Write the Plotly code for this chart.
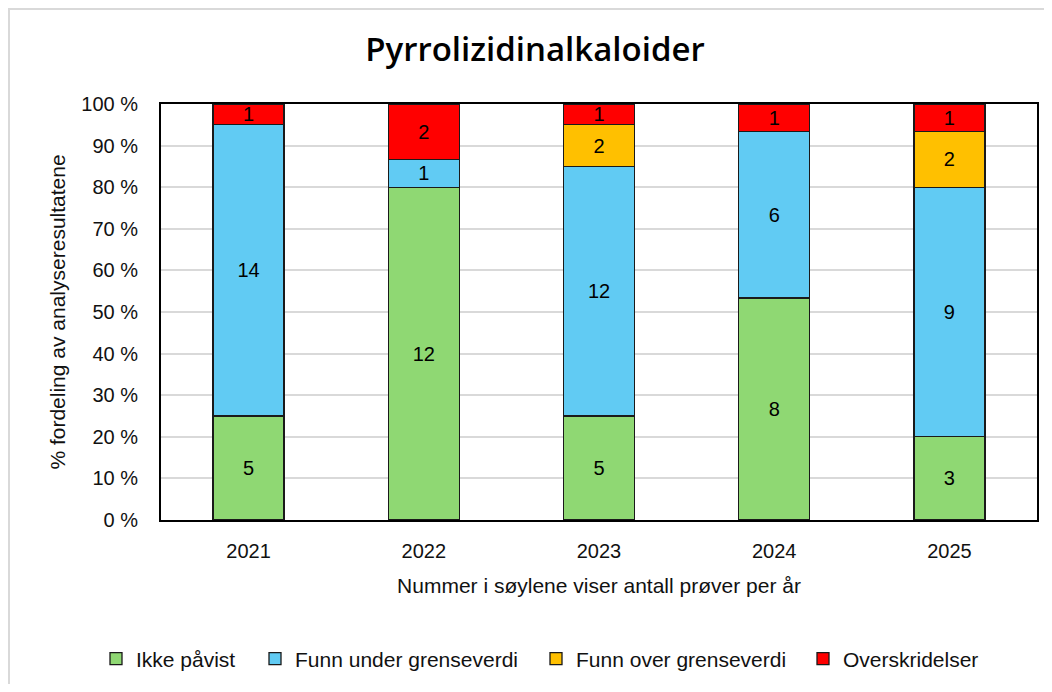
import plotly.graph_objects as go

years = ["2021", "2022", "2023", "2024", "2025"]
ikke_pavist = [5, 12, 5, 8, 3]
funn_under = [14, 1, 12, 6, 9]
funn_over = [0, 0, 2, 0, 2]
overskridelser = [1, 2, 1, 1, 1]

series = [
    ("Ikke påvist", ikke_pavist, "#8FD873"),
    ("Funn under grenseverdi", funn_under, "#61CBF3"),
    ("Funn over grenseverdi", funn_over, "#FFC000"),
    ("Overskridelser", overskridelser, "#FF0000"),
]
# screen x of each legend square (page has an 8px body margin)
legend_square_x = [110, 269, 550, 817]

FONT = "Liberation Sans"
OFF = 8
W, H = 1052 - 2 * OFF, 692 - 2 * OFF
L, T, R, B = 161 - OFF, 104 - OFF, 1037 - OFF, 520 - OFF

fig = go.Figure()
for i, (name, vals, col) in enumerate(series):
    lg = "legend" if i == 0 else f"legend{i + 1}"
    fig.add_trace(go.Bar(
        x=years, y=vals, name=name, legend=lg,
        marker=dict(color=col, line=dict(color="#1a1a1a", width=1.3)),
        text=[str(v) if v else "" for v in vals],
        textposition="inside", insidetextanchor="middle",
        constraintext="none", textangle=0,
        textfont=dict(size=20, color="black", family=FONT),
        hoverinfo="skip",
    ))

legend_common = dict(orientation="h", xanchor="left", xref="container",
                     yref="container", yanchor="middle", y=1 - (659 - OFF) / H,
                     font=dict(size=21, family=FONT, color="#111"),
                     bgcolor="rgba(0,0,0,0)", borderwidth=0)
legends = {}
for i, sx in enumerate(legend_square_x):
    key = "legend" if i == 0 else f"legend{i + 1}"
    legends[key] = dict(legend_common, x=(sx - OFF - 14) / W)

fig.update_layout(
    barmode="stack", barnorm="percent", bargap=0.595,
    width=W, height=H,
    margin=dict(l=L, r=W - R, t=T, b=H - B, autoexpand=False),
    paper_bgcolor="white", plot_bgcolor="white",
    font=dict(family=FONT, size=20, color="#111"),
    title=dict(text="Pyrrolizidinalkaloider", x=(535 - OFF) / W, xanchor="center",
               y=1 - (49 - OFF) / H, yanchor="middle",
               font=dict(size=33, family="Open Sans", weight=600, color="black")),
    showlegend=True,
    **legends,
)
fig.update_xaxes(
    automargin=False,
    showline=True, linecolor="black", linewidth=2, mirror=True,
    ticks="", ticklabelstandoff=12, tickfont=dict(size=20),
    title=dict(text="Nummer i søylene viser antall prøver per år", standoff=17,
               font=dict(size=21)),
)
fig.update_yaxes(
    automargin=False,
    range=[0, 100], dtick=10, ticksuffix=" %",
    showline=True, linecolor="black", linewidth=2, mirror=True,
    showgrid=True, gridcolor="#D9D9D9", gridwidth=1.5,
    ticks="", ticklabelstandoff=17, tickfont=dict(size=20),
    zeroline=False,
    title=dict(text="% fordeling av analyseresultatene", standoff=10,
               font=dict(size=21)),
)
pw, ph = R - L, B - T
fig.add_shape(type="rect", xref="paper", yref="paper",
              x0=(1 - L) / pw, x1=(W + 20 - L) / pw,
              y0=(B - H - 20) / ph, y1=(B - 1) / ph,
              line=dict(color="#D9D9D9", width=2), fillcolor="rgba(0,0,0,0)",
              layer="below")
fig.write_html("out.html")
